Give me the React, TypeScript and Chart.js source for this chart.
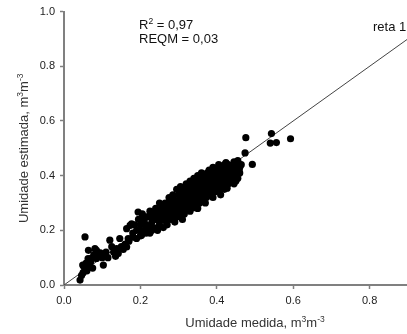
import React, { useEffect, useRef } from "react";
import { Chart, registerables } from "chart.js";
Chart.register(...registerables);

// measured (x) vs estimated (y) soil moisture, m3 m-3
const sparseLow: [number, number][] = [
  [0.042, 0.018], [0.046, 0.035], [0.049, 0.073], [0.05, 0.045], [0.052, 0.067], [0.055, 0.176],
  [0.058, 0.08], [0.06, 0.052], [0.063, 0.097], [0.064, 0.127], [0.067, 0.07], [0.07, 0.085],
  [0.072, 0.098], [0.075, 0.062], [0.078, 0.11], [0.081, 0.133], [0.085, 0.097], [0.085, 0.127],
  [0.09, 0.105], [0.095, 0.118], [0.1, 0.1], [0.103, 0.073], [0.107, 0.115], [0.11, 0.12],
  [0.115, 0.1], [0.12, 0.164], [0.125, 0.14], [0.13, 0.12], [0.135, 0.105], [0.138, 0.133],
  [0.142, 0.115], [0.146, 0.17], [0.15, 0.14], [0.155, 0.13], [0.16, 0.15], [0.164, 0.139],
  [0.164, 0.206], [0.168, 0.17], [0.17, 0.16], [0.173, 0.218], [0.177, 0.224], [0.18, 0.175],
  [0.19, 0.17], [0.194, 0.267],
];

const clusterLeft: [number, number][] = [
  [0.18, 0.19], [0.185, 0.22], [0.19, 0.2], [0.195, 0.24], [0.2, 0.18], [0.2, 0.2], [0.2, 0.22],
  [0.203, 0.182], [0.205, 0.26], [0.21, 0.2], [0.21, 0.235], [0.21, 0.25], [0.215, 0.19],
  [0.215, 0.22], [0.22, 0.25], [0.22, 0.215], [0.225, 0.27], [0.225, 0.19], [0.225, 0.206],
  [0.23, 0.2], [0.23, 0.23], [0.23, 0.26], [0.235, 0.21], [0.235, 0.25], [0.24, 0.28],
  [0.24, 0.24], [0.24, 0.26], [0.242, 0.243], [0.245, 0.2], [0.245, 0.265], [0.25, 0.22],
  [0.25, 0.26], [0.25, 0.3], [0.255, 0.25], [0.255, 0.28], [0.26, 0.21], [0.26, 0.24],
  [0.26, 0.28], [0.265, 0.235], [0.265, 0.26], [0.265, 0.3], [0.27, 0.22], [0.27, 0.26], [0.27, 0.28],
];

const clusterMid: [number, number][] = [
  [0.275, 0.25], [0.275, 0.29], [0.275, 0.32], [0.28, 0.24], [0.28, 0.27], [0.28, 0.3],
  [0.285, 0.255], [0.285, 0.3], [0.285, 0.33], [0.29, 0.23], [0.29, 0.26], [0.29, 0.31],
  [0.295, 0.28], [0.295, 0.3], [0.295, 0.35], [0.3, 0.25], [0.3, 0.29], [0.3, 0.31], [0.3, 0.33],
  [0.305, 0.27], [0.305, 0.32], [0.305, 0.36], [0.31, 0.24], [0.31, 0.27], [0.31, 0.29],
  [0.31, 0.32], [0.31, 0.35], [0.315, 0.26], [0.315, 0.3], [0.315, 0.34], [0.32, 0.28],
  [0.32, 0.3], [0.32, 0.33], [0.32, 0.37], [0.325, 0.29], [0.325, 0.32], [0.325, 0.35],
  [0.33, 0.27], [0.33, 0.3], [0.33, 0.34], [0.33, 0.38], [0.335, 0.31], [0.335, 0.33],
  [0.335, 0.36], [0.34, 0.29], [0.34, 0.31], [0.34, 0.35], [0.34, 0.39], [0.341, 0.283],
  [0.345, 0.31], [0.345, 0.34], [0.345, 0.37], [0.35, 0.28], [0.35, 0.32], [0.35, 0.34],
  [0.35, 0.36], [0.35, 0.4], [0.355, 0.3], [0.355, 0.35], [0.355, 0.38], [0.36, 0.31],
  [0.36, 0.33], [0.36, 0.35], [0.36, 0.38], [0.36, 0.41], [0.365, 0.31], [0.365, 0.36],
  [0.365, 0.39], [0.37, 0.3], [0.37, 0.34], [0.37, 0.36], [0.37, 0.39],
];

const clusterRight: [number, number][] = [
  [0.375, 0.33], [0.375, 0.35], [0.375, 0.37], [0.375, 0.41], [0.38, 0.33], [0.38, 0.35],
  [0.38, 0.39], [0.38, 0.42], [0.385, 0.36], [0.385, 0.38], [0.385, 0.39], [0.385, 0.41],
  [0.39, 0.32], [0.39, 0.37], [0.39, 0.4], [0.39, 0.43], [0.395, 0.34], [0.395, 0.37],
  [0.395, 0.39], [0.395, 0.41], [0.4, 0.35], [0.4, 0.37], [0.4, 0.39], [0.4, 0.42],
  [0.405, 0.37], [0.405, 0.4], [0.405, 0.42], [0.405, 0.44], [0.41, 0.33], [0.41, 0.36],
  [0.41, 0.4], [0.41, 0.43], [0.415, 0.36], [0.415, 0.38], [0.415, 0.42], [0.42, 0.35],
  [0.42, 0.38], [0.42, 0.41], [0.42, 0.44], [0.425, 0.39], [0.425, 0.4], [0.425, 0.42],
  [0.427, 0.354], [0.43, 0.37], [0.43, 0.41], [0.43, 0.44], [0.435, 0.38], [0.435, 0.41],
  [0.44, 0.385], [0.44, 0.41], [0.44, 0.43], [0.445, 0.37], [0.445, 0.42], [0.445, 0.45],
  [0.45, 0.38], [0.45, 0.4], [0.45, 0.42], [0.455, 0.39], [0.455, 0.455], [0.46, 0.41], [0.46, 0.43],
];

const clusterFill: [number, number][] = [
  [0.232, 0.245], [0.248, 0.235], [0.258, 0.265], [0.262, 0.295], [0.272, 0.24], [0.278, 0.31],
  [0.283, 0.285], [0.288, 0.245], [0.292, 0.285], [0.298, 0.265], [0.302, 0.345], [0.307, 0.3],
  [0.313, 0.285], [0.317, 0.315], [0.322, 0.35], [0.327, 0.305], [0.328, 0.365], [0.332, 0.285],
  [0.337, 0.345], [0.342, 0.325], [0.343, 0.365], [0.348, 0.3], [0.352, 0.385], [0.357, 0.325],
  [0.358, 0.365], [0.362, 0.395], [0.367, 0.325], [0.368, 0.35], [0.372, 0.375], [0.373, 0.32],
  [0.378, 0.4], [0.382, 0.37], [0.383, 0.34], [0.388, 0.35], [0.392, 0.385], [0.393, 0.415],
  [0.398, 0.355], [0.402, 0.405], [0.403, 0.38], [0.408, 0.35], [0.412, 0.385], [0.413, 0.415],
  [0.418, 0.4], [0.422, 0.365], [0.428, 0.43], [0.432, 0.39], [0.437, 0.425], [0.442, 0.395],
  [0.448, 0.435], [0.452, 0.41], [0.458, 0.42], [0.464, 0.44],
];

const outliers: [number, number][] = [
  [0.424, 0.448], [0.454, 0.452], [0.474, 0.483], [0.476, 0.539], [0.493, 0.441],
  [0.54, 0.519], [0.543, 0.554], [0.556, 0.521], [0.593, 0.535],
];

const oneToOne: [number, number][] = [[0, 0], [1, 1]];

const axisMin = 0;
const axisMax = 1;
const tickStep = 0.2;

const r2Text = "0,97";
const reqmText = "0,03";
const lineLabel = "reta 1:1";
const xTitle = "Umidade medida, m";
const yTitle = "Umidade estimada, m";

const FONT = '"Liberation Sans", Arial, Helvetica, sans-serif';

type Seg = { t: string; sup?: boolean };

function segWidth(ctx: CanvasRenderingContext2D, segs: Seg[], size: number, supSize: number) {
  let w = 0;
  for (const s of segs) {
    ctx.font = `${s.sup ? supSize : size}px ${FONT}`;
    w += ctx.measureText(s.t).width;
  }
  return w;
}

function drawSegs(ctx: CanvasRenderingContext2D, segs: Seg[], x: number, y: number, size: number, supSize: number, raise: number) {
  let cx = x;
  for (const s of segs) {
    ctx.font = `${s.sup ? supSize : size}px ${FONT}`;
    ctx.fillText(s.t, cx, s.sup ? y - raise : y);
    cx += ctx.measureText(s.t).width;
  }
}

const textPlugin = {
  id: "texts",
  afterDraw(chart: any) {
    const ctx: CanvasRenderingContext2D = chart.ctx;
    const ca = chart.chartArea;
    ctx.save();
    ctx.textBaseline = "alphabetic";
    ctx.textAlign = "left";
    ctx.fillStyle = "#111";
    drawSegs(ctx, [{ t: "R" }, { t: "2", sup: true }, { t: " = " + r2Text }], 139, 28.5, 13, 8.5, 5);
    drawSegs(ctx, [{ t: "REQM = " + reqmText }], 139, 42.5, 13, 8.5, 5);
    drawSegs(ctx, [{ t: lineLabel }], 373, 30.5, 13, 8.5, 5);

    ctx.fillStyle = "#333";
    const xs: Seg[] = [{ t: xTitle }, { t: "3", sup: true }, { t: "m" }, { t: "-3", sup: true }];
    const xw = segWidth(ctx, xs, 13, 8.5);
    const xc = (ca.left + ca.right) / 2;
    drawSegs(ctx, xs, xc - xw / 2, 327, 13, 8.5, 5);

    const ys: Seg[] = [{ t: yTitle }, { t: "3", sup: true }, { t: "m" }, { t: "-3", sup: true }];
    const yw = segWidth(ctx, ys, 13, 8.5);
    const yc = (ca.top + ca.bottom) / 2;
    ctx.translate(28, yc);
    ctx.rotate(-Math.PI / 2);
    drawSegs(ctx, ys, -yw / 2, 0, 13, 8.5, 5);
    ctx.restore();
  },
};

export default function App() {
  const ref = useRef<HTMLCanvasElement | null>(null);
  useEffect(() => {
    if (!ref.current) return;
    const pts = [...sparseLow, ...clusterLeft, ...clusterMid, ...clusterRight, ...clusterFill, ...outliers].map(([x, y]) => ({ x, y }));
    const chart = new Chart(ref.current, {
      type: "scatter",
      data: {
        datasets: [
          {
            data: oneToOne.map(([x, y]) => ({ x, y })),
            showLine: true,
            borderColor: "#444",
            borderWidth: 1,
            pointRadius: 0,
            order: 2,
          } as any,
          {
            data: pts,
            pointRadius: 3.6,
            pointBackgroundColor: "#000",
            pointBorderWidth: 0,
            backgroundColor: "#000",
            borderColor: "#000",
            order: 1,
          } as any,
        ],
      },
      options: {
        animation: false,
        responsive: false,
        devicePixelRatio: 1,
        layout: { padding: { left: 0, top: 10, right: 24, bottom: 0 } },
        plugins: { legend: { display: false }, tooltip: { enabled: false } },
        scales: {
          x: {
            type: "linear",
            min: axisMin,
            max: axisMax,
            afterFit: (s: any) => { s.height = 49; },
            border: { color: "#808080", width: 2 },
            grid: { drawOnChartArea: false, drawTicks: true, tickLength: 4, tickColor: "#808080", tickWidth: 1.5 },
            ticks: {
              stepSize: tickStep,
              padding: 5,
              color: "#222",
              font: { family: FONT, size: 11 },
              callback: (v: any) => Number(v).toFixed(1),
            },
          },
          y: {
            type: "linear",
            min: axisMin,
            max: axisMax,
            afterFit: (s: any) => { s.width = 64; },
            border: { color: "#808080", width: 2 },
            grid: { drawOnChartArea: false, drawTicks: true, tickLength: 4, tickColor: "#808080", tickWidth: 1.5 },
            ticks: {
              stepSize: tickStep,
              padding: 5,
              color: "#222",
              font: { family: FONT, size: 11 },
              callback: (v: any) => Number(v).toFixed(1),
            },
          },
        },
      } as any,
      plugins: [textPlugin],
    });
    return () => chart.destroy();
  }, []);
  return (
    <div style={{ position: "fixed", left: 0, top: 0, width: 407, height: 334, overflow: "hidden", background: "#fff" }}>
      <canvas ref={ref} width={470} height={334} style={{ display: "block" }} />
    </div>
  );
}
